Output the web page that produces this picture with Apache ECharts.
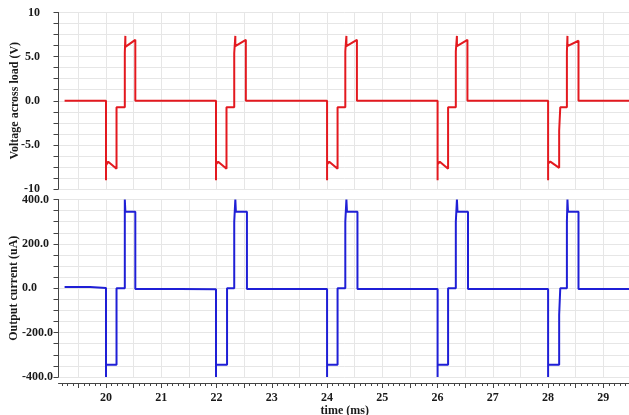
<!DOCTYPE html>
<html>
<head>
<meta charset="utf-8">
<script src="https://cdn.jsdelivr.net/npm/echarts@6/dist/echarts.min.js"></script>
<style>
html,body{margin:0;padding:0;background:#fff;}
#chart{width:629px;height:415px;}
</style>
</head>
<body>
<div id="chart"></div>
<script>
// ---- data (time in ms) ----
const voltageTime = [
  19.25,
  20.00, 20.00, 20.00, 20.04, 20.19, 20.19, 20.34, 20.34, 20.35, 20.35, 20.37, 20.53, 20.53,
  21.99, 21.99, 21.99, 22.03, 22.18, 22.18, 22.32, 22.32, 22.34, 22.34, 22.36, 22.53, 22.53,
  24.00, 24.00, 24.00, 24.04, 24.19, 24.19, 24.33, 24.33, 24.35, 24.35, 24.37, 24.54, 24.54,
  26.00, 26.00, 26.00, 26.04, 26.19, 26.19, 26.33, 26.33, 26.35, 26.35, 26.37, 26.54, 26.54,
  28.00, 28.00, 28.00, 28.04, 28.20, 28.20, 28.22, 28.34, 28.34, 28.35, 28.35, 28.37, 28.55, 28.55,
  29.50
];
const voltageValue = [
  0,
  0, -9.0, -7.3, -6.9, -7.7, -0.75, -0.75, 5.4, 7.35, 6.1, 6.3, 6.9, 0,
  0, -9.0, -7.2, -6.9, -7.7, -0.75, -0.75, 5.4, 7.35, 6.2, 6.3, 6.9, 0,
  0, -9.0, -7.2, -6.9, -7.7, -0.75, -0.75, 5.6, 7.35, 6.2, 6.3, 6.9, 0,
  0, -9.0, -7.2, -6.9, -7.7, -0.75, -0.75, 5.6, 7.35, 6.2, 6.3, 6.9, 0,
  0, -9.0, -7.1, -6.9, -7.6, -3.4, -0.75, -0.75, 5.5, 7.35, 6.2, 6.3, 6.8, 0,
  0
];
const currentTime = [
  19.25, 19.71, 19.71,
  20.00, 20.00, 20.00, 20.19, 20.19, 20.34, 20.34, 20.35, 20.53, 20.53, 21.34, 21.34,
  21.99, 21.99, 21.99, 22.19, 22.19, 22.32, 22.32, 22.34, 22.35, 22.55, 22.55,
  24.00, 24.00, 24.00, 24.19, 24.19, 24.33, 24.33, 24.35, 24.36, 24.55, 24.55,
  26.00, 26.00, 26.00, 26.19, 26.19, 26.33, 26.33, 26.35, 26.36, 26.55, 26.55,
  28.00, 28.00, 28.00, 28.20, 28.20, 28.22, 28.34, 28.34, 28.35, 28.36, 28.55, 28.55,
  29.50
];
const currentValue = [
  6, 6, 1,
  1, -400, -345, -345, 0, 0, 400, 345, 345, -3, -3, -5,
  -5, -400, -345, -345, 0, 0, 300, 400, 345, 345, -3,
  -3, -400, -345, -345, 0, 0, 300, 400, 345, 345, -3,
  -3, -400, -345, -345, 0, 0, 300, 400, 345, 345, -3,
  -3, -400, -345, -345, -120, 0, 0, 300, 400, 345, 345, -3,
  -3
];
// ---- tick labels ----
const xLabelValues = [20, 21, 22, 23, 24, 25, 26, 27, 28, 29];
const xMajorTickValues = [19.5, 20, 20.5, 21, 21.5, 22, 22.5, 23, 23.5, 24, 24.5, 25, 25.5, 26, 26.5, 27, 27.5, 28, 28.5, 29, 29.5];
const voltageTicks = ['-10', '-5.0', '0.0', '5.0', '10'];
const currentTicks = ['-400.0', '-200.0', '0.0', '200.0', '400.0'];

const xMinorTickValues = [];
for (let i = 192; i <= 295; i++) xMinorTickValues.push(Math.round(i) / 10);

const zip = (a, b) => a.map((t, i) => [t, b[i]]);

const X_MIN = 19.14, X_MAX = 29.5;
const FONT = 'Liberation Serif';
const txt = {fontFamily: FONT, fontWeight: 'bold', fontSize: 12, color: '#1a1a1a'};
const gridColor = '#e6e6e6';
const axisColor = '#444';

const chart = echarts.init(document.getElementById('chart'), null, {renderer: 'canvas'});
chart.setOption({
  animation: false,
  backgroundColor: '#fff',
  grid: [
    {left: 58.5, right: -2, top: 12.5, height: 176.5, containLabel: false, outerBoundsMode: 'none'},
    {left: 58.5, right: -2, top: 199.5, height: 177.5, containLabel: false, outerBoundsMode: 'none'}
  ],
  xAxis: [
    { // top panel: grid lines only
      type: 'value', gridIndex: 0, min: X_MIN, max: X_MAX,
      axisLine: {show: false, onZero: false},
      axisTick: {show: false, customValues: xMajorTickValues},
      axisLabel: {show: false},
      splitLine: {show: true, lineStyle: {color: gridColor, width: 1}}
    },
    { // bottom panel main axis
      type: 'value', gridIndex: 1, min: X_MIN, max: X_MAX, position: 'bottom', offset: 6,
      name: 'time (ms)', nameLocation: 'middle', nameGap: 22,
      nameTextStyle: txt,
      axisLine: {show: true, onZero: false, lineStyle: {color: axisColor, width: 1}},
      axisTick: {show: true, length: 5, customValues: xMajorTickValues, lineStyle: {color: axisColor}},
      axisLabel: {show: true, customValues: xLabelValues, margin: 9, ...txt,
        formatter: v => String(Math.round(v))},
      splitLine: {show: true, lineStyle: {color: gridColor, width: 1}}
    },
    { // bottom panel minor ticks
      type: 'value', gridIndex: 1, min: X_MIN, max: X_MAX, position: 'bottom', offset: 6,
      axisLine: {show: false, onZero: false},
      axisTick: {show: true, length: 3, customValues: xMinorTickValues, lineStyle: {color: axisColor}},
      axisLabel: {show: false},
      splitLine: {show: false}
    }
  ],
  yAxis: [
    {
      type: 'value', gridIndex: 0, min: -10, max: 10, interval: 5,
      name: 'Voltage across load (V)', nameLocation: 'middle', nameGap: 37.5, nameRotate: 90,
      nameMoveOverlap: false,
      nameTextStyle: txt,
      axisLine: {show: true, onZero: false, lineStyle: {color: axisColor, width: 1}},
      axisTick: {show: true, length: 5, lineStyle: {color: axisColor}},
      minorTick: {show: true, splitNumber: 4, length: 5, lineStyle: {color: axisColor}},
      axisLabel: {margin: 18.5, align: 'right', ...txt,
        formatter: v => voltageTicks[Math.round((v + 10) / 5)]},
      splitLine: {show: true, lineStyle: {color: gridColor}},
      minorSplitLine: {show: true, lineStyle: {color: gridColor}}
    },
    {
      type: 'value', gridIndex: 1, min: -400, max: 400, interval: 200,
      name: 'Output current (uA)', nameLocation: 'middle', nameGap: 38.5, nameRotate: 90,
      nameMoveOverlap: false,
      nameTextStyle: txt,
      axisLine: {show: true, onZero: false, lineStyle: {color: axisColor, width: 1}},
      axisTick: {show: true, length: 5, lineStyle: {color: axisColor}},
      minorTick: {show: true, splitNumber: 4, length: 5, lineStyle: {color: axisColor}},
      axisLabel: {margin: 36.5, align: 'left', ...txt,
        formatter: v => currentTicks[Math.round((v + 400) / 200)]},
      splitLine: {show: true, lineStyle: {color: gridColor}},
      minorSplitLine: {show: true, lineStyle: {color: gridColor}}
    }
  ],
  series: [
    {
      type: 'line', xAxisIndex: 0, yAxisIndex: 0,
      data: zip(voltageTime, voltageValue),
      showSymbol: false, symbol: 'none', clip: true,
      lineStyle: {color: '#e3191f', width: 2}
    },
    {
      type: 'line', xAxisIndex: 1, yAxisIndex: 1,
      data: zip(currentTime, currentValue),
      showSymbol: false, symbol: 'none', clip: true,
      lineStyle: {color: '#1f1fd6', width: 2}
    }
  ]
});
</script>
</body>
</html>
